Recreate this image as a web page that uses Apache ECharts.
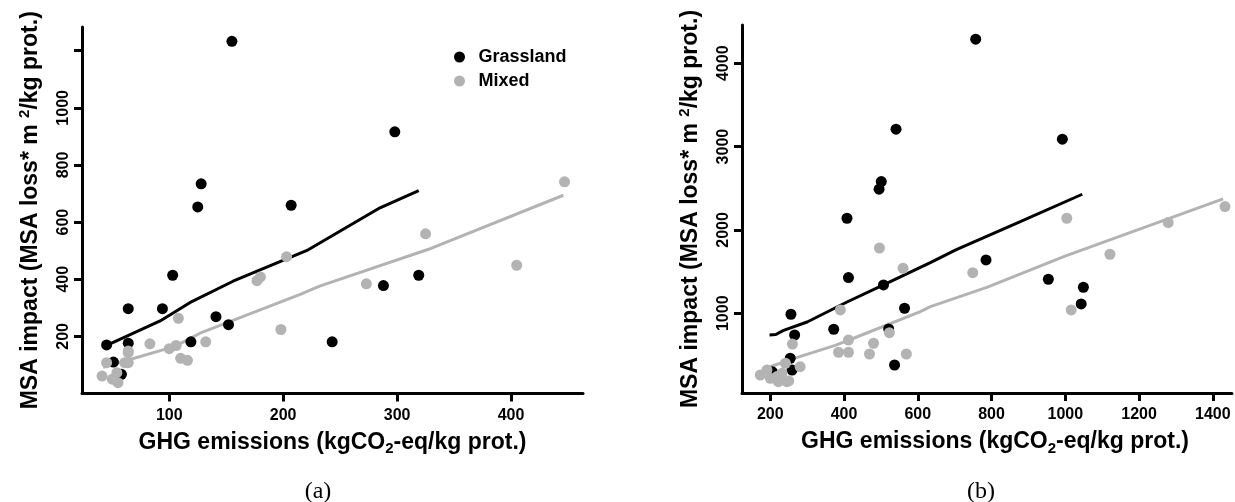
<!DOCTYPE html>
<html>
<head>
<meta charset="utf-8">
<script src="https://cdn.jsdelivr.net/npm/echarts@6/dist/echarts.min.js"></script>
<style>
html,body{margin:0;padding:0;background:#fff;}
#chart{width:1235px;height:502px;}
</style>
</head>
<body>
<div id="chart"></div>
<script>
// ---- Panel (a) data: [GHG emissions, MSA impact] ----
var grasslandA = [[155,1233],[128,734],[125,653],[207,659],[298,916],[243,181],[288,378],[319,414],[103,414],[64,297],[94,297],[141,269],[152,241],[119,181],[45,170],[64,176],[51,110],[58,67]];
var mixedA = [[447,741],[325,559],[405,449],[273,384],[203,479],[177,395],[180,408],[198,224],[108,263],[132,181],[83,174],[100,157],[106,168],[110,123],[116,116],[64,149],[64,108],[45,108],[41,61],[50,50],[55,38],[54,73],[61,108],[64,143]];
var fitGrasslandA = [[47,172],[92,254],[118,318],[156,393],[222,503],[285,650],[319,710]];
var fitMixedA = [[42,92],[105,165],[127,211],[215,347],[232,376],[327,504],[446,694]];

// ---- Panel (b) data ----
var grasslandB = [[757,4289],[992,3089],[541,3209],[501,2580],[495,2489],[408,2140],[412,1428],[507,1340],[564,1060],[256,988],[372,808],[266,739],[521,811],[537,379],[254,460],[259,319],[205,299],[785,1640],[954,1408],[1049,1312],[1043,1112]];
var mixedB = [[1433,2280],[1279,2088],[1004,2140],[1121,1708],[749,1487],[1016,1040],[496,1783],[560,1540],[390,1040],[523,767],[412,679],[480,640],[385,532],[412,532],[469,511],[569,511],[260,630],[281,359],[173,259],[200,220],[218,240],[232,279],[222,179],[245,179],[241,400],[191,319],[250,188]];
var fitGrasslandB = [[198,739],[215,745],[236,795],[300,895],[408,1135],[507,1340],[634,1607],[703,1760],[878,2100],[1046,2428]];
var fitMixedB = [[180,330],[200,358],[263,455],[376,615],[426,700],[607,1019],[634,1079],[787,1310],[1001,1688],[1428,2372]];

// ---- Tick values ----
var xTicksA = [100,200,300,400];
var yTicksA = [200,400,600,800,1000,1200];
var yLabelsA = [200,400,600,800,1000];
var xTicksB = [200,400,600,800,1000,1200,1400];
var yTicksB = [1000,2000,3000,4000];

var seriesNames = ['Grassland','Mixed'];
var xTitle = 'GHG emissions (kgCO{sub|2}-eq/kg prot.)';
var yTitle = 'MSA impact (MSA loss* m {sup|2}/kg prot.)';

var BLACK = '#000000', GREY = '#b3b3b3';
var FONT = 'Liberation Sans, Arial, sans-serif';

function plain(v){ return String(v); }
function nameStyle(extra){
  var s = {fontFamily:FONT, fontSize:23, fontWeight:'bold', color:'#000', lineHeight:28,
    rich:{
      sup:{fontFamily:FONT, fontSize:15, fontWeight:'bold', color:'#000', verticalAlign:'top', lineHeight:13},
      sub:{fontFamily:FONT, fontSize:15, fontWeight:'bold', color:'#000', verticalAlign:'bottom', lineHeight:15}
    }};
  for (var k in (extra||{})) s[k]=extra[k];
  return s;
}
function xAxis(gi, min, max, ticks, extraName){
  return {type:'value', gridIndex:gi, min:min, max:max,
    name:xTitle, nameLocation:'middle', nameGap:34, nameTextStyle:nameStyle(extraName),
    axisLine:{show:true, onZero:false, lineStyle:{color:'#000', width:3}},
    axisTick:{show:true, length:8, lineStyle:{color:'#000', width:3}, customValues:ticks},
    axisLabel:{show:true, margin:14, fontFamily:FONT, fontSize:16, fontWeight:'bold', color:'#000', customValues:ticks, formatter:plain},
    splitLine:{show:false}};
}
function yAxis(gi, min, max, ticks, labels){
  return {type:'value', gridIndex:gi, min:min, max:max,
    name:yTitle, nameLocation:'middle', nameGap:37, nameRotate:90, nameTextStyle:nameStyle(),
    axisLine:{show:true, onZero:false, lineStyle:{color:'#000', width:3}},
    axisTick:{show:true, length:8, lineStyle:{color:'#000', width:3}, customValues:ticks},
    axisLabel:{show:true, rotate:90, margin:10, fontFamily:FONT, fontSize:16, fontWeight:'bold', color:'#000', customValues:labels, formatter:plain},
    splitLine:{show:false}};
}
function line(name, xi, data, color){
  return {name:name, type:'line', xAxisIndex:xi, yAxisIndex:xi, data:data, showSymbol:false, symbol:'none',
    lineStyle:{color:color, width:3}, silent:true, z:2, animation:false};
}
function scatter(name, xi, data, color, z){
  return {name:name, type:'scatter', xAxisIndex:xi, yAxisIndex:xi, data:data, symbol:'circle', symbolSize:11,
    itemStyle:{color:color, opacity:1}, z:z, animation:false};
}

var chart = echarts.init(document.getElementById('chart'), null, {renderer:'canvas'});
chart.setOption({
  backgroundColor:'#fff',
  animation:false,
  title:[
    {text:'(a)', left:313, top:475, textAlign:'center', textStyle:{fontFamily:'Liberation Serif, Times New Roman, serif', fontSize:24, fontWeight:'normal', color:'#000'}},
    {text:'(b)', left:976, top:475, textAlign:'center', textStyle:{fontFamily:'Liberation Serif, Times New Roman, serif', fontSize:24, fontWeight:'normal', color:'#000'}}
  ],
  legend:{data:seriesNames, orient:'vertical', left:449, top:42, itemWidth:28, itemHeight:11, itemGap:4,
    icon:'circle',
    textStyle:{fontFamily:FONT, fontSize:18, fontWeight:'bold', color:'#000', lineHeight:20}},
  grid:[
    {left:82, top:27, width:501, height:366.5},
    {left:742, top:25, width:490, height:368}
  ],
  xAxis:[ xAxis(0, 23.4, 463.2, xTicksA), xAxis(1, 123.3, 1452, xTicksB, {padding:[0,0,0,16]}) ],
  yAxis:[ yAxis(0, 0, 1283, yTicksA, yLabelsA), yAxis(1, 43, 4459, yTicksB, yTicksB) ],
  series:[
    line('Grassland fit', 0, fitGrasslandA, BLACK),
    line('Mixed fit', 0, fitMixedA, GREY),
    scatter('Grassland', 0, grasslandA, BLACK, 3),
    scatter('Mixed', 0, mixedA, GREY, 4),
    line('Grassland fit', 1, fitGrasslandB, BLACK),
    line('Mixed fit', 1, fitMixedB, GREY),
    scatter('Grassland', 1, grasslandB, BLACK, 3),
    scatter('Mixed', 1, mixedB, GREY, 4)
  ]
});
</script>
</body>
</html>
